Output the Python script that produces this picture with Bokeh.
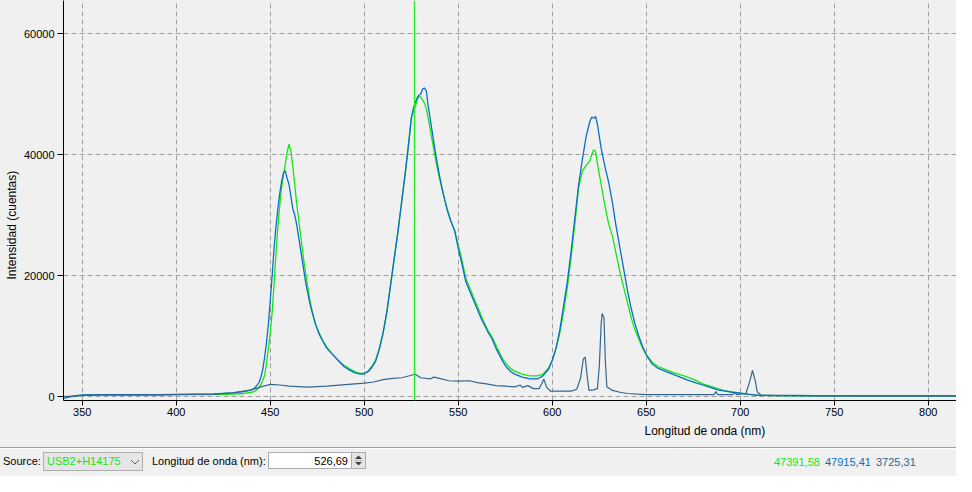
import math
from bokeh.plotting import figure
from bokeh.models import Range1d, FixedTicker, Span, Title, Div, NumeralTickFormatter
from bokeh.layouts import column
from bokeh.embed import file_html
from bokeh.resources import INLINE

# ---------------- data ----------------
wavelength = [
    340, 343, 346, 350, 360, 370, 380, 390, 400, 410,
    420, 430, 436, 440, 442, 444, 445, 446, 447, 448,
    449, 450, 451, 452, 453, 454, 455, 456, 457, 458,
    459, 460, 461, 462, 463, 464, 465, 466, 467, 468,
    469, 470, 471, 472, 474, 476, 478, 480, 483, 486,
    489, 492, 495, 498, 500, 502, 504, 506, 508, 510,
    512, 514, 516, 518, 520, 522, 524, 525, 526, 527,
    528, 529, 530, 531, 532, 533, 534, 536, 538, 540,
    542, 544, 546, 548, 550, 552, 554, 556, 558, 560,
    562, 564, 566, 568, 570, 572, 574, 576, 578, 580,
    584, 588, 592, 595, 598, 600, 602, 604, 606, 608,
    610, 612, 614, 616, 618, 620, 621, 622, 623, 624,
    626, 628, 630, 632, 634, 636, 638, 640, 642, 644,
    646, 648, 650, 653, 656, 660, 664, 668, 672, 676,
    680, 684, 688, 692, 696, 700, 705, 710, 720, 740,
    760, 780, 800, 819,
]

green_counts = [
    0, 50, 150, 200, 250, 250, 250, 250, 300, 300,
    300, 400, 500, 700, 900, 1500, 2000, 2700, 3500, 5500,
    8000, 10500, 14000, 18500, 23500, 28000, 31500, 34500, 36500, 38500,
    40500, 41700, 40500, 38000, 35000, 32000, 29500, 27000, 24500, 22000,
    20000, 18000, 16000, 14500, 12000, 10500, 9200, 8200, 7000, 6000,
    5200, 4600, 4100, 3800, 3800, 4200, 5000, 6000, 8000, 10500,
    14000, 18500, 23000, 27500, 32500, 37500, 43000, 46000, 47000, 47800,
    48800, 49600, 49500, 49000, 48500, 47500, 46000, 42500, 39000, 36000,
    33500, 31000, 29000, 27500, 25000, 22500, 19500, 18000, 16500, 15000,
    13500, 12000, 10800, 9800, 8500, 7200, 6000, 5200, 4600, 4200,
    3700, 3400, 3400, 3700, 4700, 6000, 8000, 10500, 14000, 18000,
    23000, 28500, 34500, 37300, 38200, 39000, 40000, 40800, 40500, 38500,
    35000, 31500, 28500, 26500, 23500, 20500, 18000, 15500, 13000, 11000,
    9500, 8000, 6900, 5700, 5000, 4500, 4000, 3600, 3200, 2700,
    2100, 1700, 1300, 950, 700, 550, 300, 200, 150, 100,
    100, 100, 100, 100,
]

blue_counts = [
    -300, -100, 100, 250, 300, 300, 300, 300, 350, 400,
    450, 600, 800, 1100, 1500, 2300, 3200, 4500, 6500, 9000,
    12000, 16000, 20000, 24500, 28000, 31000, 33500, 35500, 37000, 37300,
    36000, 35000, 33000, 31000, 30000, 28500, 26500, 24500, 22500, 20500,
    18500, 17000, 15500, 14200, 12000, 10300, 9100, 8000, 7000, 6000,
    5000, 4400, 3900, 3700, 3800, 4100, 4800, 5800, 7800, 10500,
    14000, 18500, 23000, 27500, 32500, 37500, 43000, 46000, 47500, 48500,
    49300, 49800, 50000, 50800, 51000, 50500, 48000, 44000, 40000, 36500,
    33500, 31000, 29000, 27500, 24500, 21800, 19000, 17500, 16000, 14500,
    13000, 11800, 10500, 9500, 8000, 6800, 5600, 4700, 4100, 3700,
    3200, 2900, 2900, 3400, 4500, 6000, 8000, 11000, 15000, 19000,
    24000, 29500, 35000, 39200, 43000, 45500, 46200, 46000, 46300, 45000,
    41000, 38000, 35400, 32000, 28000, 24500, 21000, 17500, 14500, 12000,
    10000, 8300, 6900, 5400, 4700, 4200, 3700, 3200, 2700, 2300,
    1900, 1500, 1100, 900, 700, 550, 350, 200, 150, 100,
    100, 100, 100, 100,
]

dark_wavelength = [
    340, 345, 350, 360, 380, 400, 420, 430, 440, 445,
    450, 455, 460, 470, 480, 490, 500, 505, 510, 515,
    520, 526, 527, 530, 535, 537, 540, 545, 550, 556,
    560, 565, 570, 575, 580, 583, 584, 587, 590, 593,
    594.5, 595.5, 597, 599, 605, 610, 613, 615, 616.5, 617.5,
    618.5, 619.5, 622, 624, 625, 626, 626.5, 627.5, 628.2, 629,
    632, 636, 640, 650, 660, 680, 686, 687, 688, 696,
    697, 698, 703, 705, 706.5, 708, 709, 711, 720, 730,
    740, 760, 780, 800, 819,
]
dark_counts = [
    0, 0, 200, 250, 250, 300, 400, 600, 1100, 1600,
    2000, 1900, 1700, 1550, 1700, 1950, 2200, 2400, 2800, 3000,
    3100, 3600, 3700, 3100, 2900, 3200, 3000, 2600, 2550, 2600,
    2300, 2100, 1800, 1700, 1600, 1900, 1500, 1800, 1300, 1300,
    2200, 2900, 1500, 900, 900, 900, 1200, 3000, 6200, 6500,
    3500, 1000, 1100, 1300, 5000, 12000, 13700, 13000, 6000, 1600,
    1000, 700, 500, 300, 300, 300, 300, 800, 300, 300,
    700, 300, 500, 2500, 4300, 2500, 800, 200, 200, 200,
    150, 100, 100, 100, 100,
]

x_ticks = [350, 400, 450, 500, 550, 600, 650, 700, 750, 800]
y_ticks = [0, 20000, 40000, 60000]
cursor_nm = 526.69
cursor_text = "526,69"
source_name = "USB2+H14175"
readout = ["47391,58", "47915,41", "3725,31"]

GREEN = "#14e614"
BLUE = "#0a6ec8"
DARK = "#35668f"
FONT = "Liberation Sans"
BG = "#f0f0f0"

# ---------------- figure ----------------
p = figure(width=956, height=445,
           x_range=Range1d(340, 815), y_range=Range1d(-661, 65455),
           output_backend="svg", toolbar_location=None,
           min_border_left=63, min_border_right=0, min_border_top=0, min_border_bottom=45,
           background_fill_color=BG, border_fill_color=BG, outline_line_color=None)

p.xaxis.ticker = FixedTicker(ticks=x_ticks, minor_ticks=[])
p.yaxis.ticker = FixedTicker(ticks=y_ticks, minor_ticks=[])
p.yaxis.formatter = NumeralTickFormatter(format="0")
for ax in (p.xaxis, p.yaxis):
    ax.axis_line_color = "black"
    ax.major_tick_line_color = "black"
    ax.major_tick_in = 0
    ax.minor_tick_out = 0
    ax.minor_tick_in = 0
    ax.major_label_text_font = FONT
    ax.major_label_text_font_size = "11px"
    ax.major_label_text_color = "black"
p.xaxis.major_tick_out = 5
p.xaxis.major_label_standoff = 2
p.yaxis.major_tick_out = 6
p.yaxis.major_label_standoff = 3

for g in (p.xgrid, p.ygrid):
    g.grid_line_color = "#a0a0a0"
    g.grid_line_dash = "5 3"
    g.grid_line_width = 1

p.line(wavelength, green_counts, line_color=GREEN, line_width=1.3)
p.line(wavelength, blue_counts, line_color=BLUE, line_width=1.3)
p.line(dark_wavelength, dark_counts, line_color=DARK, line_width=1.2)

p.add_layout(Span(location=cursor_nm, dimension="height", line_color="#22ee22", line_width=1.3))

p.add_layout(Title(text="Intensidad (cuentas)", align="left", offset=121, standoff=3,
                   text_font=FONT, text_font_size="12px", text_font_style="normal",
                   text_color="black"), "left")
p.add_layout(Title(text="Longitud de onda (nm)", align="left", offset=581, standoff=6,
                   text_font=FONT, text_font_size="12px", text_font_style="normal",
                   text_color="black"), "below")

# ---------------- bottom bar ----------------
bar_html = f"""
<div style="position:relative;width:956px;height:31px;background:{BG};font-family:'{FONT}',Arial,sans-serif;font-size:11px;color:#000;overflow:hidden;">
  <div style="position:absolute;left:0;top:2px;width:956px;height:1px;background:#a0a0a0;"></div>
  <div style="position:absolute;left:0;top:3px;width:956px;height:1px;background:#ffffff;"></div>
  <span style="position:absolute;left:3px;top:8px;line-height:16px;white-space:nowrap;">Source:</span>
  <div style="position:absolute;left:43px;top:7px;width:100px;height:19px;box-sizing:border-box;background:#e5e5e5;border:1px solid #adadad;"></div>
  <span style="position:absolute;left:47px;top:8px;line-height:16px;color:{GREEN};white-space:nowrap;">{source_name}</span>
  <svg style="position:absolute;left:130px;top:13px;" width="10" height="8"><polyline points="1,2 5,6 9,2" fill="none" stroke="#606060" stroke-width="1"/></svg>
  <span style="position:absolute;left:152px;top:8px;line-height:16px;white-space:nowrap;">Longitud de onda (nm):</span>
  <div style="position:absolute;left:268px;top:7px;width:84px;height:17px;box-sizing:border-box;background:#ffffff;border:1px solid #abadb3;"></div>
  <span style="position:absolute;left:268px;width:80px;top:8px;line-height:16px;text-align:right;white-space:nowrap;">{cursor_text}</span>
  <div style="position:absolute;left:351px;top:7px;width:15px;height:17px;box-sizing:border-box;background:#e5e5e5;border:1px solid #abadb3;"></div>
  <svg style="position:absolute;left:354px;top:9px;" width="9" height="13"><polygon points="1,5 4.5,1.5 8,5" fill="#404040"/><line x1="0" y1="6.5" x2="9" y2="6.5" stroke="#c0c0c0"/><polygon points="1,8 4.5,11.5 8,8" fill="#404040"/></svg>
  <span style="position:absolute;left:774px;top:9px;line-height:16px;color:{GREEN};white-space:nowrap;">{readout[0]}</span>
  <span style="position:absolute;left:825px;top:9px;line-height:16px;color:{BLUE};white-space:nowrap;">{readout[1]}</span>
  <span style="position:absolute;left:876px;top:9px;line-height:16px;color:{DARK};white-space:nowrap;">{readout[2]}</span>
</div>
"""
bar = Div(text=bar_html, width=956, height=31, margin=0, styles={"background-color": BG})

layout = column(p, bar, spacing=0, styles={"background-color": BG})

open("out.html", "w").write(file_html(layout, INLINE))
